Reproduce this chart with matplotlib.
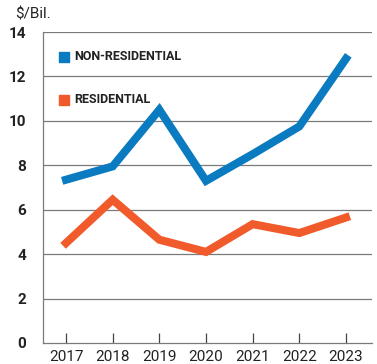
import matplotlib.pyplot as plt

years = [2017, 2018, 2019, 2020, 2021, 2022, 2023]
non_residential = [7.35, 7.95, 10.5, 7.3, 8.5, 9.75, 12.8]
residential = [4.5, 6.45, 4.65, 4.1, 5.35, 4.95, 5.65]
y_ticks = [0, 2, 4, 6, 8, 10, 12, 14]

BLUE = "#0a7bc1"
ORANGE = "#f15a2b"
GRID = "#7a7a7a"
FONT = ["Roboto", "DejaVu Sans"]

fig = plt.figure(figsize=(3.77, 3.64), dpi=100)
ax = fig.add_axes([43 / 377, 1 - 343 / 364, 329 / 377, 311 / 364])

ax.plot(years, non_residential, color=BLUE, linewidth=5.8, solid_joinstyle="miter")
ax.plot(years, residential, color=ORANGE, linewidth=5.8, solid_joinstyle="miter")

ax.set_xlim(2016.507, 2023.557)
ax.set_ylim(0, 14)
ax.set_yticks(y_ticks)
ax.set_xticks(years)
ax.set_xticklabels([str(y) for y in years], family=FONT, fontsize=11, color="#222222")
ax.set_yticklabels([str(v) for v in y_ticks], family=FONT, fontsize=11,
                   fontweight="bold", color="#222222")

for v in y_ticks[1:]:
    ax.axhline(v, color=GRID, linewidth=0.9, zorder=0)

for side in ("top", "right"):
    ax.spines[side].set_visible(False)
for side in ("left", "bottom"):
    ax.spines[side].set_color(GRID)
    ax.spines[side].set_linewidth(0.9)

ax.tick_params(axis="x", direction="in", length=7, width=0.9, color="#444444", pad=5)
ax.tick_params(axis="y", length=0, pad=12)

# legend drawn as coloured squares with labels
ax.scatter([2016.957], [12.88], marker="s", s=52, color=BLUE, clip_on=False)
ax.text(2017.17, 12.88, "NON-RESIDENTIAL", family=FONT, fontsize=9,
        fontweight="bold", color="#222222", va="center")
ax.scatter([2016.957], [10.96], marker="s", s=52, color=ORANGE, clip_on=False)
ax.text(2017.17, 10.96, "RESIDENTIAL", family=FONT, fontsize=9,
        fontweight="bold", color="#222222", va="center")

fig.text(15 / 377, 1 - 15 / 364, "$/Bil.", family=FONT, fontsize=11,
         color="#222222", va="center")

fig.savefig("out.png", dpi=100, facecolor="white")
